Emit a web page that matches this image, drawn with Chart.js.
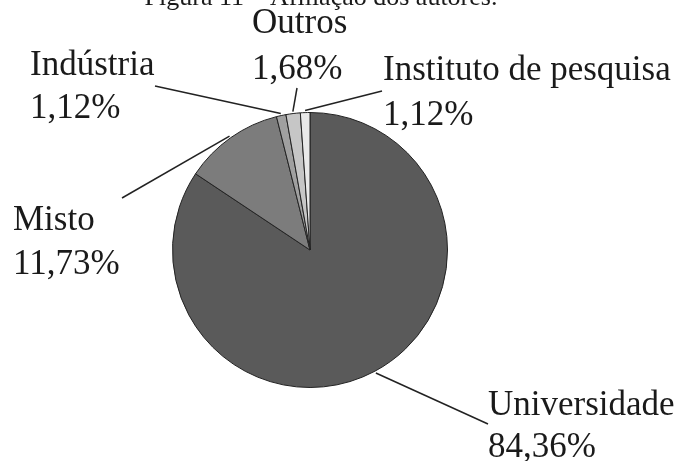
<!DOCTYPE html>
<html>
<head>
<meta charset="utf-8">
<script src="https://cdn.jsdelivr.net/npm/chart.js@4/dist/chart.umd.min.js"></script>
<style>
  html, body { margin: 0; padding: 0; background: #fff; }
  canvas { display: block; }
</style>
</head>
<body>
<canvas id="pizza" width="679" height="461"></canvas>
<script>
// dados
const categorias = ["Universidade", "Misto", "Indústria", "Outros", "Instituto de pesquisa"];
const percentuais = [84.36, 11.73, 1.12, 1.68, 1.12];
const cores = ["#5a5a5a", "#7c7c7c", "#a0a0a0", "#c6c6c6", "#e9e9e9"];
const titulo = "Figura 11 – Afiliação dos autores.";

// posicao dos rotulos (layout): x do texto, linhas de base, ponta da linha guia
const layoutRotulos = [
  { x: 488, y1: 415, y2: 457, fimX: 488, fimY: 424 },
  { x: 13, y1: 230, y2: 274, fimX: 122, fimY: 198 },
  { x: 30, y1: 75, y2: 118, fimX: 155, fimY: 86 },
  { x: 252, y1: 33, y2: 79, fimX: 297, fimY: 88 },
  { x: 383, y1: 80, y2: 125, fimX: 382, fimY: 91 },
];

function formataPct(v) {
  return v.toFixed(2).replace(".", ",") + "%";
}

const rotulosPlugin = {
  id: "rotulos",
  afterDraw(chart) {
    const ctx = chart.ctx;
    const arcs = chart.getDatasetMeta(0).data;
    ctx.save();

    // titulo cortado no topo
    ctx.fillStyle = "#1a1a1a";
    ctx.font = "26px 'Liberation Serif'";
    ctx.textAlign = "center";
    ctx.textBaseline = "alphabetic";
    ctx.fillText(titulo, 321, 5);

    ctx.font = "35px 'Liberation Serif'";
    ctx.textAlign = "left";
    arcs.forEach((arc, i) => {
      const p = arc.getProps(["x", "y", "startAngle", "endAngle", "outerRadius"], true);
      const meio = (p.startAngle + p.endAngle) / 2;
      const r = p.outerRadius + 2;
      const lay = layoutRotulos[i];

      ctx.strokeStyle = "#222";
      ctx.lineWidth = 1.5;
      ctx.beginPath();
      ctx.moveTo(p.x + Math.cos(meio) * r, p.y + Math.sin(meio) * r);
      ctx.lineTo(lay.fimX, lay.fimY);
      ctx.stroke();

      ctx.fillText(categorias[i], lay.x, lay.y1);
      ctx.fillText(formataPct(percentuais[i]), lay.x, lay.y2);
    });
    ctx.restore();
  },
};

new Chart(document.getElementById("pizza"), {
  type: "pie",
  data: {
    labels: categorias,
    datasets: [
      {
        data: percentuais,
        backgroundColor: cores,
        borderColor: "#222",
        borderWidth: 1,
      },
    ],
  },
  options: {
    responsive: false,
    animation: false,
    layout: { padding: { left: 172, right: 231, top: 112, bottom: 73 } },
    plugins: {
      legend: { display: false },
      tooltip: { enabled: false },
    },
  },
  plugins: [rotulosPlugin],
});
</script>
</body>
</html>
